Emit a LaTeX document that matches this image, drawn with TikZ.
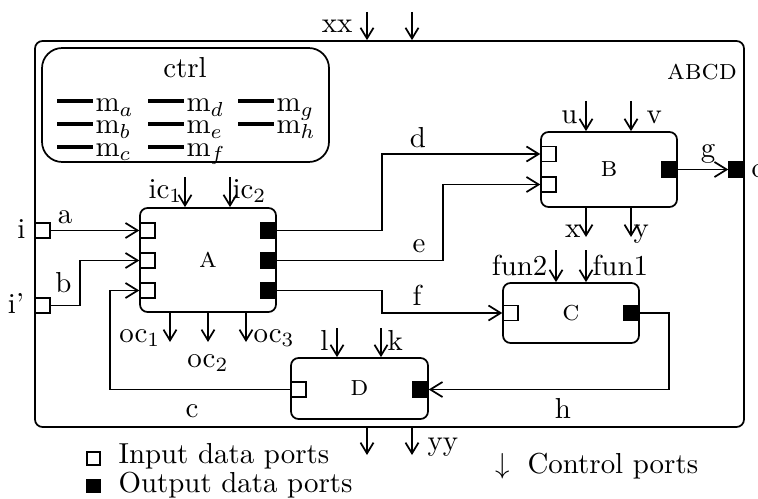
\documentclass[tikz,border=0pt]{standalone}
\usetikzlibrary{arrows.meta,calc}
\def\upx{0.346pt}
\tikzset{
  pxgrid/.style={x=0.346pt,y=-0.346pt},
  box/.style={draw,line width=0.6pt,rounded corners=2.6pt,inner sep=0pt,font=\scshape},
  ctrlbox/.style={draw,line width=0.6pt,rounded corners=7pt,inner sep=0pt},
  inport/.style={draw,fill=white,line width=0.5pt,minimum size={15*\upx},inner sep=0pt},
  outport/.style={draw,fill=black,line width=0.5pt,minimum size={15*\upx},inner sep=0pt},
  wire/.style={line width=0.6pt,-{Straight Barb[length=4.2pt,width=5.2pt]}},
  ctl/.style={line width=0.6pt,-{Straight Barb[length=3.7pt,width=4.5pt]}},
  lbl/.style={inner sep=0pt,anchor=base},
  lble/.style={inner sep=0pt,anchor=base east},
  lblw/.style={inner sep=0pt,anchor=base west},
  legline/.style={line width=1.4pt},
  legsq/.style={draw,line width=0.4pt,minimum size={13*\upx},inner sep=0pt},
}
\begin{document}
\begin{tikzpicture}[pxgrid]
\useasboundingbox (0,0) rectangle (758,498);
% outer box
\node[box,minimum width={709*\upx},minimum height={386*\upx}] (abcd) at (389.5,234) {};
\node[lbl,font=\scshape] (abcdl) at (702,80) {abcd};
% ctrl box
\node[ctrlbox,minimum width={287*\upx},minimum height={114*\upx}] (ctrl) at (185.5,105) {};
\node[lbl] (ctrll) at (185,78) {ctrl};
\draw[legline] (57,101) -- (93,101); \node[lblw] (ma) at (95,112) {m$_a$};
\draw[legline] (57,124) -- (93,124); \node[lblw] (mb) at (95,134) {m$_b$};
\draw[legline] (57,147) -- (93,147); \node[lblw] (mc) at (95,156) {m$_c$};
\draw[legline] (148,101) -- (184,101); \node[lblw] (md) at (186,112) {m$_d$};
\draw[legline] (148,124) -- (184,124); \node[lblw] (me) at (186,134) {m$_e$};
\draw[legline] (148,147) -- (184,147); \node[lblw] (mf) at (186,156) {m$_f$};
\draw[legline] (238,101) -- (274,101); \node[lblw] (mg) at (276,112) {m$_g$};
\draw[legline] (238,124) -- (274,124); \node[lblw] (mh) at (276,134) {m$_h$};
% boxes
\node[box,minimum width={136*\upx},minimum height={104*\upx}] (A) at (208,260) {a};
\node[box,minimum width={136*\upx},minimum height={75*\upx}] (B) at (609,169.5) {b};
\node[box,minimum width={136*\upx},minimum height={60*\upx}] (C) at (571,313) {c};
\node[box,minimum width={137*\upx},minimum height={61*\upx}] (D) at (359.5,388.5) {d};
% ports
\node[inport] (pi) at (42.5,230.5) {};
\node[inport] (pi2) at (42.5,305.5) {};
\node[outport] (po) at (736.5,169.5) {};
\node[inport] (Ain1) at (147.5,230.5) {};
\node[inport] (Ain2) at (147.5,260.5) {};
\node[inport] (Ain3) at (147.5,290.5) {};
\node[outport] (Aout1) at (268.5,230.5) {};
\node[outport] (Aout2) at (268.5,260.5) {};
\node[outport] (Aout3) at (268.5,290.5) {};
\node[inport] (Bin1) at (548.5,154) {};
\node[inport] (Bin2) at (548.5,184.5) {};
\node[outport] (Bout) at (669.5,169.5) {};
\node[inport] (Cin) at (510.5,313) {};
\node[outport] (Cout) at (631.5,313) {};
\node[inport] (Din) at (298.5,389.5) {};
\node[outport] (Dout) at (420.5,389.5) {};
% port labels
\node[lbl] (li) at (21.5,238) {i};
\node[lbl] (li2) at (16,313) {i'};
\node[lblw] (lo) at (751,177) {o};
% bend coordinates
\coordinate (bx) at (80,0);
\coordinate (cx) at (110,0);
\coordinate (dx) at (382,0);
\coordinate (ex) at (443,0);
\coordinate (fx) at (382,0);
\coordinate (hx) at (669,0);
% wires
\draw[wire] (pi.east) -- (Ain1.west);
\draw[wire] (pi2.east) -- (pi2.east -| bx) -- (bx |- Ain2.west) -- (Ain2.west);
\draw[wire] (Din.west) -- (Din.west -| cx) -- (cx |- Ain3.west) -- (Ain3.west);
\draw[wire] (Aout1.east) -- (Aout1.east -| dx) -- (dx |- Bin1.west) -- (Bin1.west);
\draw[wire] (Aout2.east) -- (Aout2.east -| ex) -- (ex |- Bin2.west) -- (Bin2.west);
\draw[wire] (Aout3.east) -- (Aout3.east -| fx) -- (fx |- Cin.west) -- (Cin.west);
\draw[wire] (Bout.east) -- (po.west);
\draw[wire] (Cout.east) -- (Cout.east -| hx) -- (hx |- Dout.east) -- (Dout.east);
% wire labels
\node[lbl] (la) at (65,223) {a};
\node[lbl] (lb) at (63.5,292) {b};
\node[lbl] (lc) at (192,417) {c};
\node[lbl] (ld) at (418,147) {d};
\node[lbl] (le) at (419,252) {e};
\node[lbl] (lf) at (417,305) {f};
\node[lbl] (lg) at (708,157) {g};
\node[lbl] (lh) at (563,418) {h};
% control arrows
\coordinate (xx1) at (367,12); \coordinate (xx2) at (412,12);
\draw[ctl] (xx1) -- (xx1 |- abcd.north);
\draw[ctl] (xx2) -- (xx2 |- abcd.north);
\node[lble] (lxx) at (353,33) {xx};
\coordinate (yy1) at (367,455); \coordinate (yy2) at (412,455);
\draw[ctl] (yy1 |- abcd.south) -- (yy1);
\draw[ctl] (yy2 |- abcd.south) -- (yy2);
\node[lblw] (lyy) at (427,450) {yy};
\coordinate (ic1) at (185,177); \coordinate (ic2) at (230,177);
\draw[ctl] (ic1) -- (ic1 |- A.north);
\draw[ctl] (ic2) -- (ic2 |- A.north);
\node[lble] (lic1) at (183,198) {ic$_1$};
\node[lblw] (lic2) at (232,198) {ic$_2$};
\coordinate (oc1) at (170,342); \coordinate (oc2) at (208,342); \coordinate (oc3) at (246,342);
\draw[ctl] (oc1 |- A.south) -- (oc1);
\draw[ctl] (oc2 |- A.south) -- (oc2);
\draw[ctl] (oc3 |- A.south) -- (oc3);
\node[lble] (loc1) at (161,342) {oc$_1$};
\node[lbl] (loc2) at (208,367) {oc$_2$};
\node[lblw] (loc3) at (253,342) {oc$_3$};
\coordinate (cu) at (586,101); \coordinate (cv) at (631,101);
\draw[ctl] (cu) -- (cu |- B.north);
\draw[ctl] (cv) -- (cv |- B.north);
\node[lble] (lu) at (578,123) {u};
\node[lblw] (lv) at (646,123) {v};
\coordinate (cxo) at (586,237); \coordinate (cyo) at (631,237);
\draw[ctl] (cxo |- B.south) -- (cxo);
\draw[ctl] (cyo |- B.south) -- (cyo);
\node[lble] (lx) at (581,237) {x};
\node[lblw] (ly) at (633,237) {y};
\coordinate (cf2) at (556,250); \coordinate (cf1) at (586,250);
\draw[ctl] (cf2) -- (cf2 |- C.north);
\draw[ctl] (cf1) -- (cf1 |- C.north);
\node[lble] (lf2) at (548,275) {fun2};
\node[lblw] (lf1) at (592,275) {fun1};
\coordinate (cl) at (337,328); \coordinate (ck) at (381,328);
\draw[ctl] (cl) -- (cl |- D.north);
\draw[ctl] (ck) -- (ck |- D.north);
\node[lble] (ll) at (329,350) {l};
\node[lblw] (lk) at (387,350) {k};
% legend
\node[legsq,fill=white] (leg1) at (93.5,458.5) {};
\node[lblw] (leg1t) at (118,463) {Input data ports};
\node[legsq,fill=black] (leg2) at (93.5,486) {};
\node[lblw] (leg2t) at (118,492) {Output data ports};
\node[lblw] (leg3) at (495,473) {$\downarrow$};
\node[lblw] (leg3t) at (527,473) {Control ports};
\end{tikzpicture}
\end{document}
